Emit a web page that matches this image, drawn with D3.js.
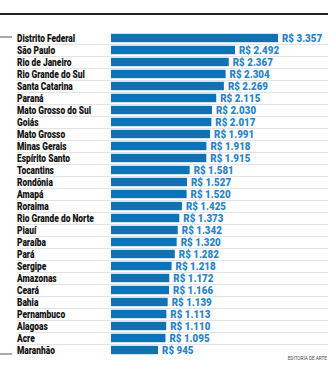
<!DOCTYPE html>
<html><head><meta charset="utf-8">
<script src="https://cdn.jsdelivr.net/npm/d3@7"></script>
<style>html,body{margin:0;padding:0;background:#fff;}svg{display:block;}</style>
</head><body><svg id="c" width="336" height="370"></svg>
<script>
const states = ["Distrito Federal","São Paulo","Rio de Janeiro","Rio Grande do Sul","Santa Catarina","Paraná","Mato Grosso do Sul","Goiás","Mato Grosso","Minas Gerais","Espírito Santo","Tocantins","Rondônia","Amapá","Roraima","Rio Grande do Norte","Piauí","Paraíba","Pará","Sergipe","Amazonas","Ceará","Bahia","Pernambuco","Alagoas","Acre","Maranhão"];
const values = [3357,2492,2367,2304,2269,2115,2030,2017,1991,1918,1915,1581,1527,1520,1425,1373,1342,1320,1282,1218,1172,1166,1139,1113,1110,1095,945];
const source = "EDITORIA DE ARTE";

const svg = d3.select("#c");
const font = "Roboto,'Noto Sans',sans-serif";
const x = d3.scaleLinear().domain([0, 3357]).range([111, 278]);
const y = d3.scaleBand().domain(states).range([32, 356]).paddingInner(0.3).paddingOuter(0.15);
const step = y.step();
const fmt = v => "R$ " + d3.format(",")(v).replace(/,/g, ".");

// top rule
svg.append("line").attr("x1",0).attr("x2",328).attr("y1",14).attr("y2",14)
  .attr("stroke","#222").attr("stroke-width",1.8);

// separators
svg.append("g").selectAll("line").data(states.slice(1)).join("line")
  .attr("x1",17).attr("x2",328)
  .attr("y1",d=>Math.round(y(d)+y.bandwidth()/2-step/2)+0.5)
  .attr("y2",d=>Math.round(y(d)+y.bandwidth()/2-step/2)+0.5)
  .attr("stroke","#e2e2e2").attr("stroke-width",1);

// left markers
[states[0], states[states.length-1]].forEach((s,i)=>{
  const yy = y(s)+y.bandwidth()/2 + (i===0?-1:4);
  svg.append("line").attr("x1",0).attr("x2",12).attr("y1",yy).attr("y2",yy)
    .attr("stroke","#555").attr("stroke-width",1);
});

// bars
svg.append("g").selectAll("rect").data(states).join("rect")
  .attr("x",x(0)).attr("y",d=>y(d))
  .attr("width",(d,i)=>x(values[i])-x(0)).attr("height",y.bandwidth())
  .attr("fill","#0d72b6");

// category labels
svg.append("g").selectAll("text").data(states).join("text")
  .attr("transform",d=>`translate(17,${y(d)+y.bandwidth()/2}) scale(0.84,1)`)
  .attr("dy","0.36em")
  .attr("font-family",font).attr("font-weight",900).attr("font-size",10)
  .attr("fill","#111").text(d=>d);

// value labels
svg.append("g").selectAll("text").data(states).join("text")
  .attr("transform",(d,i)=>`translate(${x(values[i])+4},${y(d)+y.bandwidth()/2}) scale(0.95,1)`)
  .attr("dy","0.36em")
  .attr("font-family",font).attr("font-weight",900).attr("font-size",10.3)
  .attr("fill","#2a84c4").text((d,i)=>fmt(values[i]));

svg.append("text").attr("transform","translate(327,360) scale(0.85,1)").attr("text-anchor","end")
  .attr("font-family",font).attr("font-size",5.5).attr("fill","#444").text(source);
</script></body></html>
